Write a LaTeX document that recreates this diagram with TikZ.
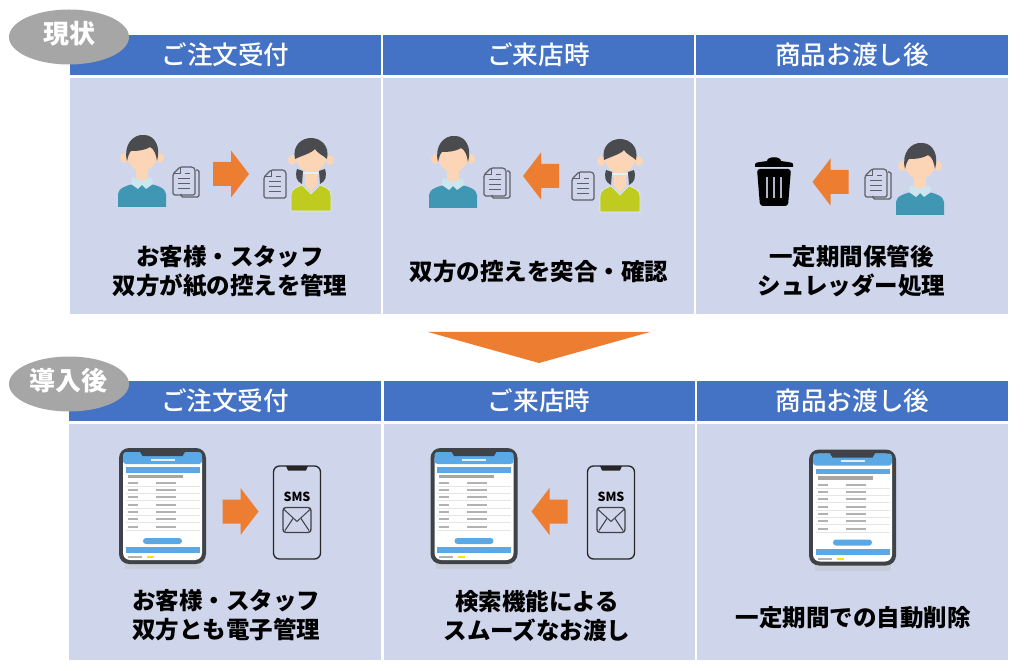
\documentclass[tikz,border=0pt]{standalone}
\usepackage{xcolor}
\usepackage{fontspec}
\setmainfont{Noto Sans CJK JP}
\newfontfamily\mediumfont{Noto Sans CJK JP Medium}
\usepackage{tikz}
\usetikzlibrary{calc,positioning,shapes.geometric}
\definecolor{HeadBlue}{HTML}{4472C4}
\definecolor{CellBlue}{HTML}{CFD5EA}
\definecolor{TagGray}{HTML}{A6A6A6}
\definecolor{ArrowOrange}{HTML}{ED7D31}
\definecolor{SkinTone}{HTML}{FBD5B5}
\definecolor{HairGray}{HTML}{4A4B4F}
\definecolor{ShirtTeal}{HTML}{4097B3}
\definecolor{ShirtLime}{HTML}{BFCB1E}
\definecolor{CollarBlue}{HTML}{CBE6EE}
\definecolor{DocGray}{HTML}{5C6068}
\definecolor{AppBlue}{HTML}{5AA9E6}
\definecolor{FrameGray}{HTML}{3F4347}
\tikzset{
  headcell/.style={fill=HeadBlue,text=white,minimum width=311pt,minimum height=40pt,inner sep=0pt,font=\fontsize{25.6}{28}\selectfont\mediumfont},
  bodycell/.style={fill=CellBlue,minimum width=311pt,minimum height=236pt,inner sep=0pt},
  bodytext/.style={align=center,inner sep=0pt,font=\fontsize{23.5}{29}\selectfont\bfseries},
  tagnode/.style={ellipse,fill=TagGray,minimum width=120pt,minimum height=55pt,inner sep=0pt},
  tagtext/.style={text=white,inner sep=0pt,font=\fontsize{26}{28}\selectfont\bfseries},
  pics/manicon/.style={code={
    \fill[ShirtTeal] (-24,0) -- (-24,-13) .. controls (-24,-19) and (-14,-22) .. (-8,-23)
      -- (8,-23) .. controls (14,-22) and (24,-19) .. (24,-13) -- (24,0) -- cycle;
    \fill[SkinTone] (-6,-40) rectangle (6,-26);
    \fill[CollarBlue] (-10,-30) -- (0,-26) -- (10,-30) -- (11,-23) -- (4,-18) -- (0,-22) -- (-4,-18) -- (-11,-23) -- cycle;
    \fill[SkinTone] (-18,-49) ellipse[x radius=4pt,y radius=5pt];
    \fill[SkinTone] (18,-49) ellipse[x radius=4pt,y radius=5pt];
    \fill[SkinTone] (0,-53) ellipse[x radius=15.5pt,y radius=17pt];
    \fill[HairGray] (-15,-46) .. controls (-19,-62) and (-9,-73) .. (2,-72)
      .. controls (13,-72) and (19,-60) .. (15,-46) .. controls (14,-53) and (12,-58) .. (8,-60)
      .. controls (2,-56) and (-8,-56) .. (-11,-56) .. controls (-13,-54) and (-14,-50) .. (-15,-46) -- cycle;
  }},
  pics/womanicon/.style={code={
    \fill[HairGray] (-14,-42) .. controls (-16,-35) and (-15,-30) .. (-9,-27) -- (-8,-40) -- cycle;
    \fill[HairGray] (14,-42) .. controls (16,-35) and (15,-30) .. (9,-27) -- (8,-40) -- cycle;
    \fill[ShirtLime,draw=CollarBlue!60!white,line width=.6pt] (-20,0) -- (-20,-16) .. controls (-20,-22) and (-14,-24) .. (-9,-26)
      -- (0,-17) -- (9,-26) .. controls (14,-24) and (20,-22) .. (20,-16) -- (20,0) -- cycle;
    \fill[SkinTone] (-6,-42) -- (6,-42) -- (6,-26) -- (0,-20) -- (-6,-26) -- cycle;
    \draw[CollarBlue!60!white,line width=1.8pt] (-8,-38) -- (8,-38);
    \fill[SkinTone] (-19,-51) ellipse[x radius=4pt,y radius=5pt];
    \fill[SkinTone] (19,-51) ellipse[x radius=4pt,y radius=5pt];
    \fill[SkinTone] (0,-55) ellipse[x radius=15.5pt,y radius=16pt];
    \fill[HairGray] (-16,-52) .. controls (-19,-66) and (-9,-73) .. (0,-73)
      .. controls (9,-73) and (19,-66) .. (16,-52) .. controls (13,-55) and (6,-58) .. (4,-62)
      .. controls (1,-58) and (-10,-55) .. (-16,-52) -- cycle;
  }},
  pics/singledoc/.style={code={
    \draw[DocGray,line width=1.2pt,rounded corners=1.5pt,line join=round] (-4,-14) -- (9,-14) -- (11,-12) -- (11,14) -- (-11,14) -- (-11,-7) -- cycle;
    \draw[DocGray,line width=1pt] (-4,-14) -- (-4,-7) -- (-11,-7);
    \foreach \yy in {-2,3,8}
      \draw[DocGray,line width=1pt] (-6,\yy) -- (6,\yy);
    \draw[DocGray,line width=1pt] (1,-7) -- (6,-7);
  }},
  pics/doubledoc/.style={code={
    \draw[DocGray,line width=1.2pt,rounded corners=1.5pt] (10,-12) -- (13,-12) -- (13,15) -- (-5,15) -- (-5,12);
    \begin{scope}[xshift=-2pt,yshift=1pt]
      \pic {singledoc};
    \end{scope}
  }},
  pics/rightarrow/.style={code={
    \fill[ArrowOrange] (-18,-12) -- (0,-12) -- (0,-23.5) -- (18,0) -- (0,23.5) -- (0,12) -- (-18,12) -- cycle;
  }},
  pics/leftarrow/.style={code={
    \fill[ArrowOrange] (18,-12) -- (0,-12) -- (0,-23.5) -- (-18,0) -- (0,23.5) -- (0,12) -- (18,12) -- cycle;
  }},
  pics/appphone/.style={code={
    \fill[black!25,opacity=.35] (-38,57) rectangle (38,63);
    \fill[FrameGray,rounded corners=10pt] (-43.5,-58) rectangle (43.5,58);
    \fill[white,rounded corners=7pt] (-39.5,-54) rectangle (39.5,54);
    \fill[AppBlue,rounded corners=3pt] (-39.5,-54) rectangle (39.5,-42);
    \fill[FrameGray] (-23,-55) -- (23,-55) -- (20,-50) -- (-20,-50) -- cycle;
    \fill[white!80!AppBlue] (-12,-47.5) rectangle (12,-45.5);
    \fill[AppBlue] (-37,-39) rectangle (37,-33.5);
    \foreach \yy in {-23,-16,-9,-1,6,13,21}{
      \fill[black!30] (-35,\yy-1) rectangle (-25,\yy+1);
      \fill[black!30] (-7,\yy-1) rectangle (13,\yy+1);
      \draw[black!10,line width=.4pt] (-37,\yy+3.5) -- (37,\yy+3.5);
    }
    \fill[black!35] (-35,-31.5) rectangle (20,-28);
    \fill[AppBlue,rounded corners=3pt] (-19.5,32) rectangle (19.5,38);
    \fill[AppBlue] (-37,41) rectangle (37,47);
    \fill[black!30] (-35,50) rectangle (-21,52);
    \fill[yellow!85!orange] (-16,50) rectangle (-9,52);
  }},
  pics/smsphone/.style={code={
    \draw[black!85,line width=1.3pt,rounded corners=6pt] (-23.5,-46.5) rectangle (23.5,46.5);
    \fill[black!85] (-11,-46.5) -- (11,-46.5) -- (9,-42) -- (-9,-42) -- cycle;
    \node[inner sep=0pt,font=\fontsize{12.5}{13}\selectfont\bfseries] (smslabel) at (0,-15.5) {SMS};
    \draw[FrameGray,line width=1.4pt,rounded corners=3pt] (-14,-5) rectangle (14,20);
    \draw[FrameGray,line width=1pt] (-13,-3) -- (0,9) -- (13,-3);
    \draw[FrameGray,line width=1pt] (-12,18) -- (-4,6) (12,18) -- (4,6);
  }},
  pics/trashicon/.style={code={
    \fill[black] (-19,-15) -- (-19,-18) .. controls (-19,-20) and (-12,-20) .. (-7,-21)
      .. controls (-7,-26) and (7,-26) .. (7,-21) .. controls (12,-20) and (19,-20) .. (19,-18) -- (19,-15) -- cycle;
    \fill[black,rounded corners=3pt] (-17,-13) -- (17,-13) -- (14,24) -- (-14,24) -- cycle;
    \foreach \xx in {-7,0,7}
      \fill[CellBlue!85!black] (\xx-1,-5) rectangle (\xx+1,16);
  }},
}
\begin{document}
\begin{tikzpicture}[x=1pt,y=-1pt]
    \useasboundingbox (0,0) rectangle (1029,671);

    % Upper table.
    \node[headcell] (headA) at (225.5,55) {ご注文受付};
    \node[headcell] (headB) at (538.5,55) {ご来店時};
    \node[headcell,minimum width=312pt] (headC) at (852,55) {商品お渡し後};
    \node[bodycell] (cellA) at (225.5,196.5) {};
    \node[bodycell] (cellB) at (538.5,196.5) {};
    \node[bodycell,minimum width=312pt] (cellC) at (852,196.5) {};

    % Lower table.
    \node[headcell,minimum width=312pt] (lowheadA) at (225,400.5) {ご注文受付};
    \node[headcell] (lowheadB) at (539,400.5) {ご来店時};
    \node[headcell] (lowheadC) at (852.5,400.5) {商品お渡し後};
    \node[bodycell,minimum width=312pt] (lowcellA) at (225,542) {};
    \node[bodycell] (lowcellB) at (539,542) {};
    \node[bodycell] (lowcellC) at (852.5,542) {};

    % Big arrow between the tables.
    \fill[ArrowOrange] (428,332) -- (650,332) -- (539,363) -- cycle;

    % Tags.
    \node[tagnode] (tagNow) at (69,37) {};
    \node[tagtext] (tagNowText) at (69,34) {現状};
    \node[tagnode] (tagAfter) at (69,384) {};
    \node[tagtext] (tagAfterText) at (69,381) {導入後};

    % Upper pictures.
    \pic at (142,207) {manicon};
    \pic at (186,182) {doubledoc};
    \pic at (231,174) {rightarrow};
    \pic at (275,184) {singledoc};
    \pic at (311,211) {womanicon};

    \pic at (453,208) {manicon};
    \pic at (497,183) {doubledoc};
    \pic at (541,176) {leftarrow};
    \pic at (583,186) {singledoc};
    \pic at (620,212) {womanicon};

    \pic at (774,182) {trashicon};
    \pic at (830.5,182) {leftarrow};
    \pic at (878,184) {doubledoc};
    \pic at (920,215) {manicon};

    % Lower pictures.
    \pic at (162.5,506) {appphone};
    \pic at (240.5,511.5) {rightarrow};
    \pic at (297,512.5) {smsphone};

    \pic at (474,506) {appphone};
    \pic at (549.5,511.5) {leftarrow};
    \pic at (611,512.5) {smsphone};

    \pic at (852.5,507.5) {appphone};

    % Cell texts.
    \node[bodytext] (textA) at (230,271.5) {お客様・スタッフ\\双方が紙の控えを管理};
    \node[bodytext] (textB) at (539,272) {双方の控えを突合・確認};
    \node[bodytext] (textC) at (851.5,271.5) {一定期間保管後\\シュレッダー処理};
    \node[bodytext] (lowtextA) at (226,615.5) {お客様・スタッフ\\双方とも電子管理};
    \node[bodytext] (lowtextB) at (537,615.5) {検索機能による\\スムーズなお渡し};
    \node[bodytext] (lowtextC) at (853,618) {一定期間での自動削除};
\end{tikzpicture}
\end{document}
